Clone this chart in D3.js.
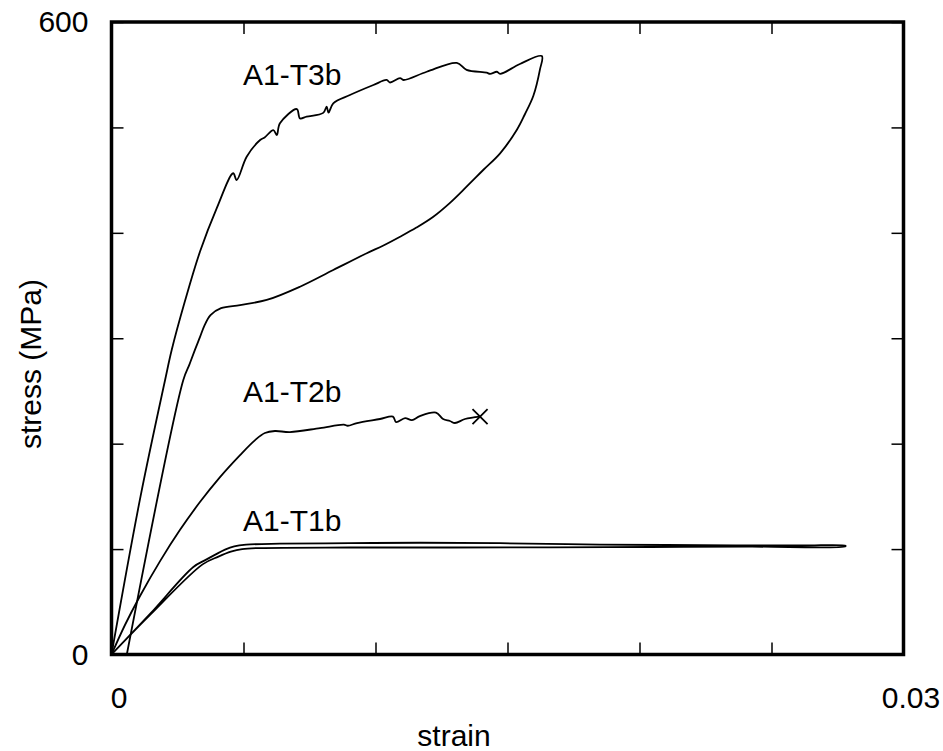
<!DOCTYPE html>
<html>
<head>
<meta charset="utf-8">
<script src="https://cdn.jsdelivr.net/npm/d3@7"></script>
<style>
  body { margin: 0; background: #fff; }
  svg text { font-family: "Liberation Sans", Arial, Helvetica, sans-serif; fill: #000; }
</style>
</head>
<body>
<div id="chart"></div>
<script>
// strain, stress (MPa)
const t1b = [
  [0, 0], [0.00146, 38.5], [0.0031, 83], [0.00355, 89.5], [0.00395, 95], [0.0043, 99.5],
  [0.00465, 102.6], [0.0051, 104.2], [0.00638, 105.1], [0.00903, 105.6], [0.01169, 106],
  [0.01472, 105.6], [0.0185, 104.3], [0.0223, 103.7], [0.0261, 103.4], [0.0278, 103.2],
  [0.0278, 102.6], [0.0242, 102.3], [0.0204, 102], [0.0166, 101.6], [0.0128, 101.5],
  [0.00903, 101.5], [0.00562, 101], [0.00495, 100], [0.00452, 97.5], [0.00405, 92.8],
  [0.00345, 85.5], [0.00146, 37.5], [0, 0]
];
const t2b = [
  [0, 0], [0.00051, 28], [0.00108, 55.5], [0.00184, 88.6], [0.00259, 118], [0.00335, 144.6],
  [0.00411, 168.3], [0.00487, 189.2], [0.00544, 203.4], [0.00581, 210.1], [0.00619, 212],
  [0.00676, 211], [0.0079, 214.8], [0.0088, 218], [0.00895, 217], [0.0093, 219.5],
  [0.01017, 223.4], [0.01066, 225.7], [0.01078, 220.5], [0.01112, 224.3], [0.01138, 222.4],
  [0.01168, 226.2], [0.01229, 229.5], [0.01256, 223.4], [0.01282, 221.5], [0.01301, 219.6],
  [0.01339, 223.4], [0.01396, 225.7]
];
const t3b = [
  [0, 0], [0.0011, 150], [0.00203, 260.4], [0.00228, 288.8], [0.00278, 335], [0.00335, 382],
  [0.00398, 423], [0.00461, 456.5], [0.00474, 450.1], [0.00512, 472.2], [0.00563, 488.1],
  [0.0058, 490.5], [0.00613, 497.5], [0.00626, 492.8], [0.00638, 503.9], [0.00702, 517.4],
  [0.00714, 508.6], [0.00739, 510.2], [0.00802, 513.8], [0.00815, 519.6], [0.00822, 514],
  [0.0084, 522.9], [0.00903, 530.7], [0.00992, 540.2], [0.01042, 545], [0.01055, 542.6],
  [0.01093, 546.8], [0.01106, 545], [0.01194, 552.8], [0.01308, 561.2], [0.01345, 554.6],
  [0.01421, 551.9], [0.01434, 550.8], [0.0146, 552.8], [0.01472, 550.8], [0.01547, 560.2],
  [0.0163, 567.7],
  [0.01623, 555], [0.01598, 530], [0.01565, 512], [0.01535, 497.5], [0.01472, 475.4],
  [0.01408, 459.6], [0.01345, 443.8], [0.0128, 428], [0.01219, 415.3], [0.01155, 405],
  [0.01093, 396.3], [0.0103, 388], [0.00967, 380.6], [0.0084, 364.7], [0.00714, 348.9],
  [0.00588, 336.3], [0.00487, 331.5], [0.00415, 328.5], [0.00375, 322], [0.00352, 312],
  [0.00335, 301], [0.00316, 289], [0.00295, 275], [0.00272, 260.4], [0.00058, 0]
];
const curveLabels = [
  { name: "A1-T3b", at: [0.00498, 540] },
  { name: "A1-T2b", at: [0.00498, 240] },
  { name: "A1-T1b", at: [0.00498, 117] }
];
const xTicks = [0, 0.005, 0.01, 0.015, 0.02, 0.025, 0.03];
const xTickLabels = { 0: "0", 0.03: "0.03" };
const yTicks = [0, 100, 200, 300, 400, 500, 600];
const yTickLabels = { 0: "0", 600: "600" };

const width = 943, height = 751;
const plotLeft = 111.5, plotRight = 903.5, plotTop = 22, plotBottom = 654.5;

const svg = d3.select("#chart").append("svg")
  .attr("width", width)
  .attr("height", height);

const x = d3.scaleLinear().domain([0, 0.03]).range([plotLeft, plotRight]);
const y = d3.scaleLinear().domain([0, 600]).range([plotBottom, plotTop]);

// inward ticks on all four sides
function styleAxis(g) {
  g.select(".domain").remove();
  g.selectAll(".tick line").attr("stroke", "#000").attr("stroke-width", 1.5);
  g.selectAll(".tick text").style("font-size", "30px").attr("fill", "#000");
}

svg.append("g")
  .attr("transform", `translate(0,${plotBottom})`)
  .call(d3.axisBottom(x).tickValues(xTicks).tickSize(-12).tickPadding(32)
    .tickFormat(d => xTickLabels[d] || ""))
  .call(styleAxis)
  .call(g => g.selectAll(".tick text").attr("dx", 7));

svg.append("g")
  .attr("transform", `translate(0,${plotTop})`)
  .call(d3.axisTop(x).tickValues(xTicks).tickSize(-12).tickFormat(""))
  .call(styleAxis);

svg.append("g")
  .attr("transform", `translate(${plotLeft},0)`)
  .call(d3.axisLeft(y).tickValues(yTicks).tickSize(-12).tickPadding(23)
    .tickFormat(d => yTickLabels[d] || ""))
  .call(styleAxis);

svg.append("g")
  .attr("transform", `translate(${plotRight},0)`)
  .call(d3.axisRight(y).tickValues(yTicks).tickSize(-12).tickFormat(""))
  .call(styleAxis);

// curves
const line = d3.line()
  .x(d => x(d[0]))
  .y(d => y(d[1]))
  .curve(d3.curveCatmullRom.alpha(0.5));
[t1b, t2b, t3b].forEach(s => {
  svg.append("path")
    .datum(s)
    .attr("d", line)
    .attr("fill", "none")
    .attr("stroke", "#000")
    .attr("stroke-width", 1.8)
    .attr("stroke-linejoin", "round");
});

// fracture mark at the end of A1-T2b
const last = t2b[t2b.length - 1];
svg.append("path")
  .attr("d", d3.symbol(d3.symbolTimes, 150)())
  .attr("transform", `translate(${x(last[0])},${y(last[1])})`)
  .attr("fill", "none")
  .attr("stroke", "#000")
  .attr("stroke-width", 1.8);

// curve names
svg.selectAll(".curve-label")
  .data(curveLabels)
  .enter().append("text")
  .attr("x", d => x(d.at[0]))
  .attr("y", d => y(d.at[1]))
  .style("font-size", "30px")
  .text(d => d.name);

// frame
svg.append("rect")
  .attr("x", plotLeft)
  .attr("y", plotTop)
  .attr("width", plotRight - plotLeft)
  .attr("height", plotBottom - plotTop)
  .attr("fill", "none")
  .attr("stroke", "#000")
  .attr("stroke-width", 3.5);

// axis titles
svg.append("text")
  .attr("x", 454)
  .attr("y", 746)
  .attr("text-anchor", "middle")
  .style("font-size", "30px")
  .text("strain");

svg.append("text")
  .attr("transform", "translate(41,364) rotate(-90)")
  .attr("text-anchor", "middle")
  .style("font-size", "30px")
  .text("stress (MPa)");
</script>
</body>
</html>
